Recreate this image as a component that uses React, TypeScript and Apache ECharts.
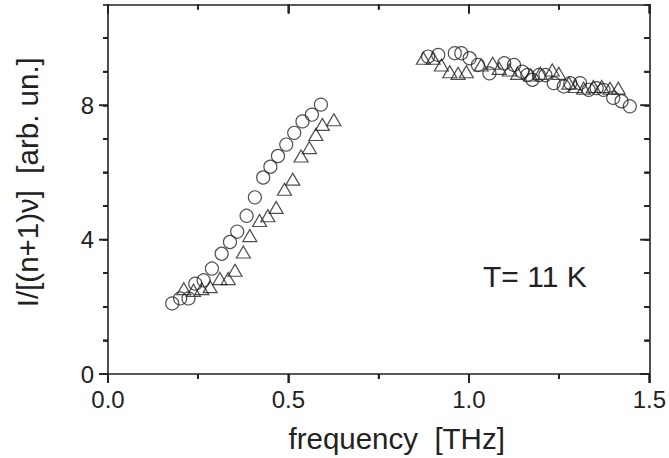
import React, { useEffect, useRef } from "react";
import * as echarts from "echarts";

// frequency [THz], I/[(n+1)ν] [arb. un.]
const circleLowX = [0.178, 0.2, 0.223, 0.242, 0.265, 0.288, 0.315, 0.338, 0.358, 0.384, 0.407, 0.43, 0.45, 0.471, 0.494, 0.516, 0.539, 0.565, 0.59];
const circleLowY = [2.1, 2.25, 2.25, 2.69, 2.79, 3.14, 3.58, 3.93, 4.24, 4.71, 5.26, 5.85, 6.17, 6.49, 6.83, 7.18, 7.52, 7.72, 8.02];
const triLowX = [0.21, 0.237, 0.26, 0.283, 0.31, 0.333, 0.352, 0.375, 0.393, 0.42, 0.443, 0.466, 0.489, 0.512, 0.535, 0.558, 0.576, 0.594, 0.626];
const triLowY = [2.54, 2.49, 2.54, 2.6, 2.84, 2.84, 3.09, 3.63, 4.12, 4.57, 4.71, 4.96, 5.5, 5.8, 6.49, 6.74, 7.13, 7.43, 7.57];
const circleHighX = [0.887, 0.915, 0.961, 0.979, 1.002, 1.025, 1.057, 1.098, 1.125, 1.148, 1.162, 1.176, 1.194, 1.212, 1.235, 1.263, 1.281, 1.308, 1.332, 1.354, 1.373, 1.4, 1.423, 1.446];
const circleHighY = [9.45, 9.5, 9.55, 9.55, 9.4, 9.2, 8.95, 9.25, 9.2, 9.0, 8.9, 8.76, 8.9, 8.9, 8.66, 8.56, 8.66, 8.66, 8.46, 8.51, 8.46, 8.22, 8.12, 7.97];
const triHighX = [0.874, 0.901, 0.924, 0.947, 0.97, 0.993, 1.034, 1.066, 1.084, 1.112, 1.135, 1.171, 1.198, 1.231, 1.249, 1.277, 1.295, 1.318, 1.345, 1.368, 1.391, 1.414];
const triHighY = [9.4, 9.4, 9.2, 9.0, 8.95, 9.0, 9.2, 9.25, 9.1, 9.05, 8.95, 8.9, 8.95, 9.05, 8.95, 8.66, 8.56, 8.51, 8.56, 8.56, 8.51, 8.51];

// axes
const xMin = 0, xMax = 1.5, yMin = 0, yMax = 11;
const xMajorTicks = [0, 0.5, 1.0, 1.5];
const xMinorTicks = [0.25, 0.75, 1.25];
const yMajorTicks = [0, 4, 8];
const yMinorTicks = [1, 2, 3, 5, 6, 7, 9, 10];
const xName = "frequency  [THz]";
const yName = "I/[(n+1)\u03bd]  [arb. un.]";
const annotation = "T= 11 K";

const zip = (xs: number[], ys: number[]) => xs.map((x, i) => [x, ys[i]]);

export default function App() {
  const ref = useRef<HTMLDivElement>(null);
  useEffect(() => {
    if (!ref.current) return;
    const chart = echarts.init(ref.current, null, { renderer: "svg" });
    const ink = "#222";
    const font = "Liberation Sans, Arial, Helvetica, sans-serif";
    const ls = () => ({ color: ink, width: 1.6 });
    const markerStyle = () => ({ color: "rgba(0,0,0,0)", borderColor: ink, borderWidth: 1.2 });
    const MAJOR = 9, MINOR = 5;

    // tick marks: [kind (0 = x, 1 = y), value, major (1) / minor (0)]
    const tickData = [
      ...xMajorTicks.map((v) => [0, v, 1]),
      ...xMinorTicks.map((v) => [0, v, 0]),
      ...yMajorTicks.map((v) => [1, v, 1]),
      ...yMinorTicks.map((v) => [1, v, 0]),
    ];

    const tickLines = (kind: number, px: number, x0: number, x1: number, y0: number, y1: number, len: number) =>
      kind === 0
        ? [
            { x1: px, y1: y1, x2: px, y2: y1 + len },
            { x1: px, y1: y0, x2: px, y2: y0 + len },
          ]
        : [
            { x1: x0 - len, y1: px, x2: x0, y2: px },
            { x1: x1 - len, y1: px, x2: x1, y2: px },
          ];

    const renderTick = (params: any, api: any) => {
      const cs = params.coordSys;
      const kind = api.value(0);
      const v = api.value(1);
      const len = api.value(2) ? MAJOR : MINOR;
      const p = kind === 0 ? api.coord([v, yMin])[0] : api.coord([xMin, v])[1];
      return {
        type: "group",
        children: tickLines(kind, p, cs.x, cs.x + cs.width, cs.y, cs.y + cs.height, len).map((shape) => ({
          type: "line", shape, style: { stroke: ink, lineWidth: 1.6 },
        })),
      };
    };

    const textEl = {
      type: "text", left: 483, top: 261,
      style: { text: annotation, fill: ink, fontSize: 30, fontFamily: font },
    };

    chart.setOption({
      animation: false,
      grid: { left: 108, right: 18, top: 4.5, bottom: 82 },
      xAxis: [
        {
          type: "value", position: "bottom", min: xMin, max: xMax, interval: 0.5,
          axisLine: { show: true, onZero: false, lineStyle: ls() },
          axisTick: { show: true, length: MAJOR, inside: false, lineStyle: ls() },
          minorTick: { show: true, splitNumber: 2, length: MINOR, lineStyle: ls() },
          splitLine: { show: false },
          axisLabel: { color: ink, fontSize: 24, fontFamily: font, margin: 13, formatter: (v: number) => v.toFixed(1) },
          name: xName, nameLocation: "middle", nameGap: 49,
          nameTextStyle: { color: ink, fontSize: 29.5, fontFamily: font, padding: [0, 0, 0, 36] },
        },
        {
          type: "value", position: "top", min: xMin, max: xMax, interval: 0.5,
          axisLine: { show: true, onZero: false, lineStyle: ls() },
          axisTick: { show: true, length: MAJOR, inside: true, lineStyle: ls() },
          minorTick: { show: true, splitNumber: 2, length: MINOR, lineStyle: ls() },
          splitLine: { show: false },
          axisLabel: { show: false },
        },
      ],
      yAxis: [
        {
          type: "value", position: "left", min: yMin, max: yMax, interval: 1,
          axisLine: { show: true, onZero: false, lineStyle: ls() },
          axisTick: { show: true, length: MINOR, inside: false, lineStyle: ls() },
          splitLine: { show: false },
          axisLabel: {
            color: ink, fontSize: 24, fontFamily: font, margin: 14,
            formatter: (v: number) => (yMajorTicks.indexOf(v) >= 0 ? String(v) : ""),
          },
          name: yName, nameLocation: "middle", nameGap: 66, nameRotate: 90,
          nameTextStyle: { color: ink, fontSize: 29.5, fontFamily: font, padding: [0, 0, 0, 14] },
        },
        {
          type: "value", position: "right", min: yMin, max: yMax, interval: 1,
          axisLine: { show: true, onZero: false, lineStyle: ls() },
          axisTick: { show: true, length: MINOR, inside: true, lineStyle: ls() },
          splitLine: { show: false },
          axisLabel: { show: false },
        },
      ],
      series: [
        { type: "custom", xAxisIndex: 0, yAxisIndex: 0, renderItem: renderTick, data: tickData, clip: false, silent: true, z: 5 },
        { type: "scatter", xAxisIndex: 0, yAxisIndex: 0, symbol: "circle", symbolSize: 13, itemStyle: markerStyle(), data: zip(circleLowX, circleLowY) },
        { type: "scatter", xAxisIndex: 0, yAxisIndex: 0, symbol: "triangle", symbolSize: [14, 12], itemStyle: markerStyle(), data: zip(triLowX, triLowY) },
        { type: "scatter", xAxisIndex: 0, yAxisIndex: 0, symbol: "circle", symbolSize: 13, itemStyle: markerStyle(), data: zip(circleHighX, circleHighY) },
        { type: "scatter", xAxisIndex: 0, yAxisIndex: 0, symbol: "triangle", symbolSize: [14, 12], itemStyle: markerStyle(), data: zip(triHighX, triHighY) },
      ],
      graphic: { elements: [textEl] },
    });

    // extra tick marks placed through the chart's own scales
    try {
      const lo = chart.convertToPixel({ xAxisIndex: 0, yAxisIndex: 0 }, [xMin, yMin]) as number[];
      const hi = chart.convertToPixel({ xAxisIndex: 0, yAxisIndex: 0 }, [xMax, yMax]) as number[];
      const lines: any[] = [];
      tickData.forEach(([kind, v, major]) => {
        const p = kind === 0
          ? (chart.convertToPixel({ xAxisIndex: 0, yAxisIndex: 0 }, [v, yMin]) as number[])[0]
          : (chart.convertToPixel({ xAxisIndex: 0, yAxisIndex: 0 }, [xMin, v]) as number[])[1];
        tickLines(kind, p, lo[0], hi[0], hi[1], lo[1], major ? MAJOR : MINOR).forEach((shape) =>
          lines.push({ type: "line", shape, z: 10, style: { stroke: ink, lineWidth: 1.6 } })
        );
      });
      chart.setOption({ graphic: { elements: [textEl, ...lines] } });
    } catch (e) {
      // keep the chart as drawn
    }
    return () => chart.dispose();
  }, []);
  return <div ref={ref} style={{ width: 669, height: 458, position: "absolute", left: 0, top: 0 }} />;
}
